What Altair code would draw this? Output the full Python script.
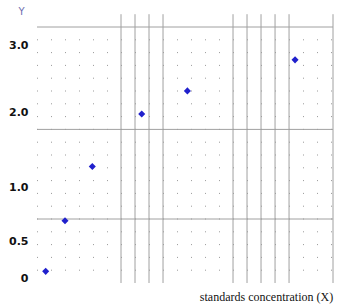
import altair as alt
import pandas as pd

# data
X_VALUES = [0.62, 2.0, 3.95, 7.48, 10.74, 18.43]
Y_VALUES = [0.09, 0.69, 1.28, 1.98, 2.32, 2.78]
Y_TICKS = [0, 0.5, 1, 2, 3]

# layout of the (non-linear) value axis and the background lattice
Y_TICK_PIXELS = [251, 214, 160.5, 85.5, 18]
GRID_ROWS = list(range(1, 20))
SOLID_ROWS = [5, 12, 20]
VLINE_X = [6, 7, 8, 9, 14, 15, 16, 17, 18, 21.14]
X_MAX = 21.14
ROW_MAX = 20

W, H = 296, 256

x_scale = alt.Scale(domain=[0, X_MAX], nice=False, zero=False)
row_scale = alt.Scale(domain=[0, ROW_MAX], nice=False, zero=False)
y_scale = alt.Scale(domain=Y_TICKS, range=Y_TICK_PIXELS, nice=False, zero=False)

X_AXIS = alt.Axis(
    title="standards concentration (X)", labels=False, ticks=False, domain=False,
    grid=False, titleFont="Liberation Serif", titleFontSize=12,
    titleFontWeight="normal", titleColor="#111111", titleX=229, titleY=13,
    titleAlign="center", titleBaseline="middle",
)

Y_AXIS = alt.Axis(
    values=Y_TICKS,
    labelExpr="datum.value == 0 ? '0' : format(datum.value, '.1f')",
    ticks=False, tickSize=0, domain=False, grid=False, labelPadding=9,
    labelFont="DejaVu Sans", labelFontSize=11, labelFontWeight="bold",
    labelColor="#111111", labelBaseline="middle",
    title="Y", titleAngle=0, titleX=-16, titleY=-16, titleFontSize=10,
    titleFont="DejaVu Sans", titleColor="#7070b0", titleFontWeight="normal",
    titleAlign="center", titleBaseline="middle",
)

dots = alt.Chart(pd.DataFrame({"row": GRID_ROWS})).mark_rule(
    color="#999999", strokeWidth=1, strokeDash=[1, 13]
).encode(
    y=alt.Y("row:Q", scale=row_scale, axis=None),
    x=alt.X(datum=0, type="quantitative", scale=x_scale, axis=X_AXIS),
    x2=alt.X2(datum=X_MAX),
)

hlines = alt.Chart(pd.DataFrame({"row": SOLID_ROWS})).mark_rule(
    color="#a0a0a0", strokeWidth=1
).encode(
    y=alt.Y("row:Q", scale=row_scale, axis=None),
    x=alt.X(datum=0, type="quantitative", scale=x_scale, axis=X_AXIS),
    x2=alt.X2(datum=X_MAX),
)

vlines = alt.Chart(pd.DataFrame({"vx": VLINE_X})).mark_rule(
    color="#a0a0a0", strokeWidth=1
).encode(
    x=alt.X("vx:Q", scale=x_scale, axis=X_AXIS),
    y=alt.Y(datum=0, type="quantitative", scale=row_scale, axis=None),
    y2=alt.Y2(datum=ROW_MAX + 1),
)

points = alt.Chart(pd.DataFrame({"x": X_VALUES, "y": Y_VALUES})).mark_point(
    shape="diamond", filled=True, size=50, color="#2020cc", opacity=1
).encode(
    x=alt.X("x:Q", scale=x_scale, axis=X_AXIS),
    y=alt.Y("y:Q", scale=y_scale, axis=Y_AXIS),
)

grid = alt.layer(dots, hlines, vlines)

chart = alt.layer(grid, points).resolve_scale(y="independent").properties(
    width=W, height=H,
    autosize=alt.AutoSizeParams(type="none"),
    padding={"left": 37, "top": 27, "right": 29, "bottom": 22},
    background="white",
).configure_view(stroke=None)

chart.save("out.html", embed_options={"renderer": "svg", "actions": False})
